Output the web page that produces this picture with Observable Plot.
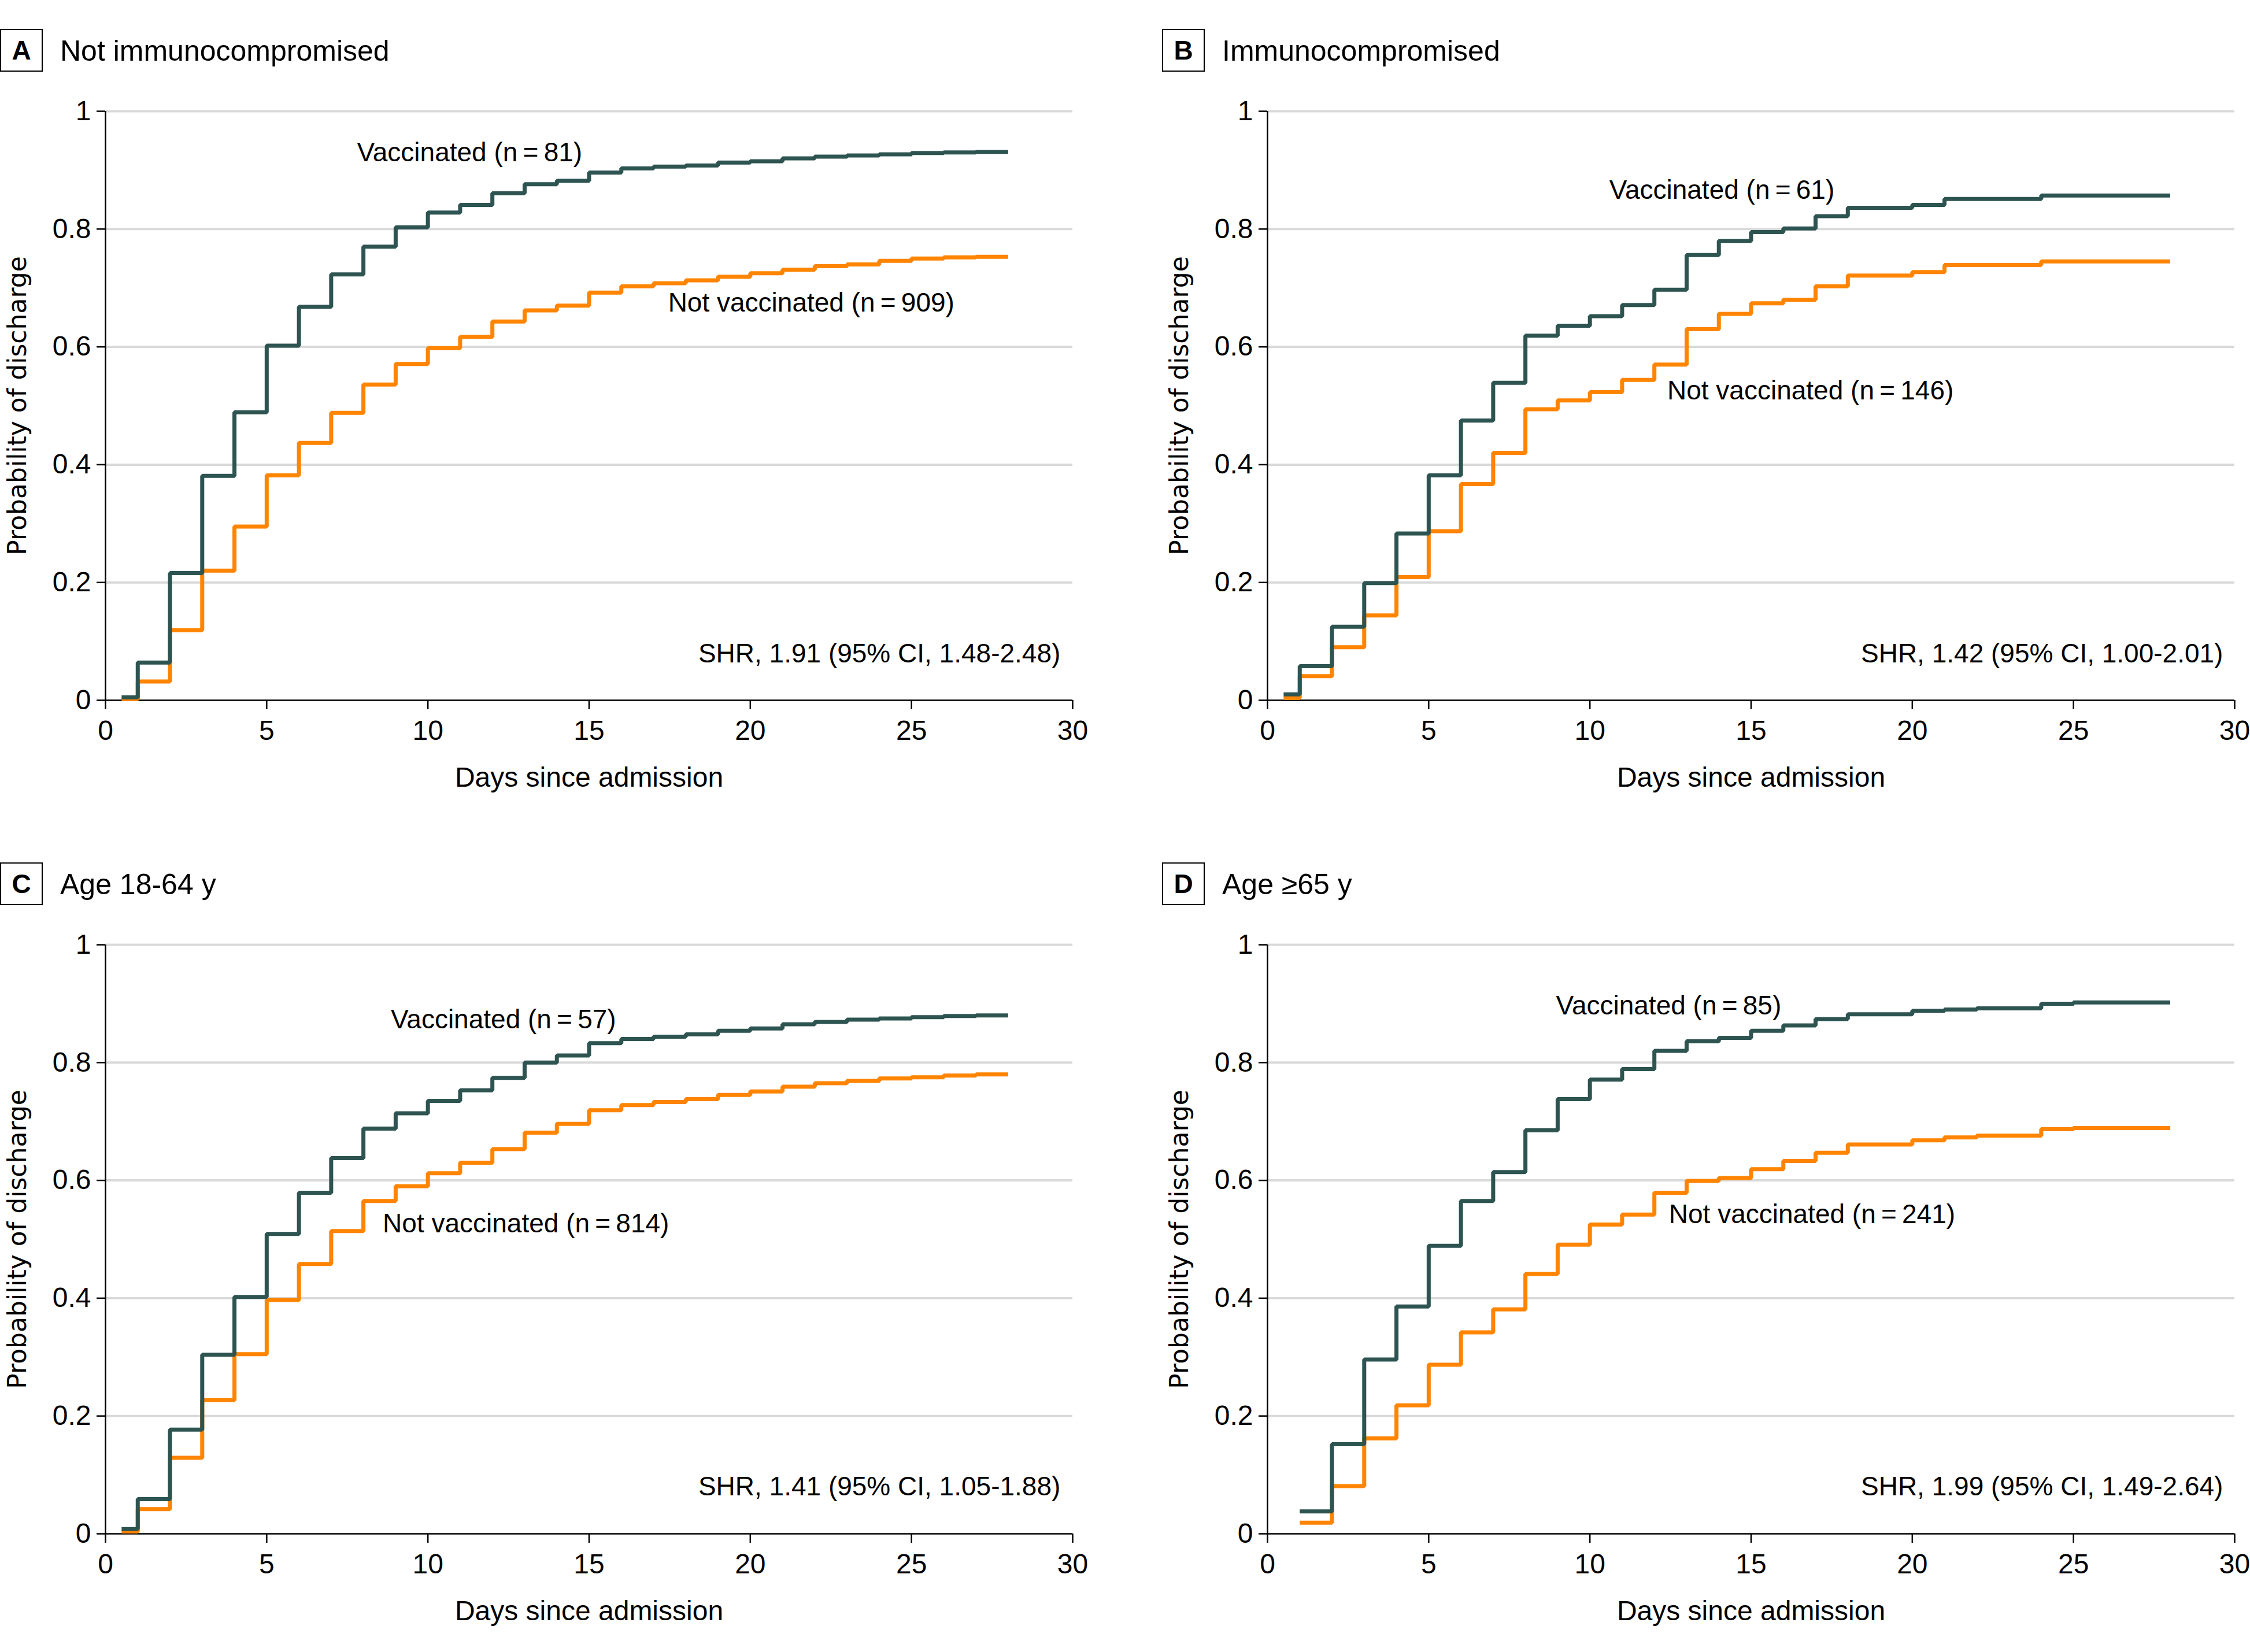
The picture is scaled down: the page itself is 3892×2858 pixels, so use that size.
<!DOCTYPE html>
<html>
<head>
<meta charset="utf-8">
<script src="https://cdn.jsdelivr.net/npm/d3@7"></script>
<script src="https://cdn.jsdelivr.net/npm/@observablehq/plot@0.6"></script>
<style>
  html, body { margin: 0; padding: 0; background: #fff; }
  #root { position: relative; width: 3892px; height: 2858px; background: #fff; font-family: "Liberation Sans", Arial, sans-serif; }
  .panel-svg { position: absolute; }
  .tag { position: absolute; width: 70px; height: 70px; border: 2.5px solid #000; display: flex; align-items: center; justify-content: center; font-weight: bold; font-size: 46px; color: #000; box-sizing: content-box; }
  .ttl { position: absolute; font-size: 50px; line-height: 50px; color: #000; white-space: nowrap; }
</style>
</head>
<body>
<div id="root"></div>
<script>
// ---- data ----
const panelLetters = ["A", "B", "C", "D"];
const panelTitles = ["Not immunocompromised", "Immunocompromised", "Age 18-64 y", "Age \u226565 y"];

const xTicks = [0, 5, 10, 15, 20, 25, 30];
const yTicks = [0, 0.2, 0.4, 0.6, 0.8, 1];
const yTickLabels = ["0", "0.2", "0.4", "0.6", "0.8", "1"];

const xLabel = "Days since admission";
const yLabel = "Probability of discharge";

const timesHalf = [0.5, 1, 2, 3, 4, 5, 6, 7, 8, 9, 10, 11, 12, 13, 14, 15, 16, 17, 18, 19, 20, 21, 22, 23, 24, 25, 26, 27, 28];
const timesOne = [1, 2, 3, 4, 5, 6, 7, 8, 9, 10, 11, 12, 13, 14, 15, 16, 17, 18, 19, 20, 21, 22, 23, 24, 25, 26, 27, 28];

const aVacc = [0.005,0.064,0.216,0.381,0.489,0.602,0.668,0.723,0.770,0.803,0.828,0.841,0.861,0.876,0.882,0.896,0.903,0.906,0.908,0.913,0.915,0.920,0.923,0.925,0.927,0.929,0.930,0.931,0.931];
const aUnvacc = [0.002,0.032,0.119,0.220,0.295,0.382,0.437,0.488,0.536,0.571,0.598,0.617,0.643,0.662,0.670,0.692,0.703,0.708,0.713,0.719,0.725,0.731,0.737,0.740,0.746,0.750,0.752,0.753,0.753];

const bVacc = [0.010,0.058,0.125,0.199,0.283,0.382,0.475,0.539,0.619,0.636,0.652,0.671,0.697,0.756,0.780,0.795,0.801,0.822,0.836,0.836,0.841,0.851,0.851,0.851,0.857,0.857,0.857,0.857,0.857];
const bUnvacc = [0.004,0.041,0.090,0.144,0.209,0.287,0.367,0.420,0.494,0.509,0.523,0.544,0.570,0.630,0.656,0.674,0.680,0.703,0.721,0.721,0.727,0.739,0.739,0.739,0.745,0.745,0.745,0.745,0.745];

const cVacc = [0.008,0.059,0.177,0.304,0.402,0.509,0.579,0.638,0.688,0.714,0.735,0.753,0.774,0.800,0.812,0.833,0.840,0.844,0.848,0.854,0.858,0.865,0.869,0.873,0.875,0.877,0.879,0.880,0.880];
const cUnvacc = [0.004,0.042,0.129,0.227,0.305,0.397,0.458,0.514,0.565,0.590,0.612,0.630,0.653,0.681,0.696,0.719,0.728,0.733,0.738,0.745,0.751,0.759,0.765,0.769,0.773,0.775,0.778,0.780,0.780];

const dVacc = [0.038,0.152,0.296,0.386,0.489,0.565,0.614,0.685,0.738,0.771,0.789,0.820,0.836,0.842,0.854,0.863,0.874,0.882,0.882,0.888,0.890,0.892,0.892,0.900,0.902,0.902,0.902,0.902];
const dUnvacc = [0.019,0.081,0.162,0.218,0.287,0.342,0.381,0.441,0.491,0.525,0.542,0.579,0.599,0.604,0.619,0.633,0.647,0.661,0.661,0.668,0.673,0.676,0.676,0.687,0.689,0.689,0.689,0.689];

const vaccLabels = ["Vaccinated (n\u2009=\u200981)", "Vaccinated (n\u2009=\u200961)", "Vaccinated (n\u2009=\u200957)", "Vaccinated (n\u2009=\u200985)"];
const unvaccLabels = ["Not vaccinated (n\u2009=\u2009909)", "Not vaccinated (n\u2009=\u2009146)", "Not vaccinated (n\u2009=\u2009814)", "Not vaccinated (n\u2009=\u2009241)"];
const shrLabels = ["SHR, 1.91 (95% CI, 1.48-2.48)", "SHR, 1.42 (95% CI, 1.00-2.01)", "SHR, 1.41 (95% CI, 1.05-1.88)", "SHR, 1.99 (95% CI, 1.49-2.64)"];

// label anchor positions (data coordinates)
const vaccLabelX = [7.8, 10.6, 8.85, 8.95];
const vaccLabelY = [0.930, 0.866, 0.873, 0.896];
const unvaccLabelX = [17.45, 12.4, 8.6, 12.45];
const unvaccLabelY = [0.674, 0.525, 0.526, 0.542];
const shrX = [29.62, 29.64, 29.62, 29.64];
const shrY = [0.079, 0.079, 0.080, 0.080];

// ---- build ----
const VACC_COLOR = "#2d5451";
const UNVACC_COLOR = "#ff8400";
const FONT = "Liberation Sans, Arial, sans-serif";

const panels = [
  {times: timesHalf, vacc: aVacc, unvacc: aUnvacc},
  {times: timesHalf, vacc: bVacc, unvacc: bUnvacc},
  {times: timesHalf, vacc: cVacc, unvacc: cUnvacc},
  {times: timesOne, vacc: dVacc, unvacc: dUnvacc}
];
const origins = [[0, 0], [2010, 0], [0, 1442], [2010, 1442]];

const root = document.getElementById("root");

const W = 1673, H = 1019;
const mL = 182, mT = 62, mR = 35, mB = 180;
const svgTop = 130;

panels.forEach((p, i) => {
  const [ox, oy] = origins[i];
  const toRows = (vals) => p.times.map((t, k) => ({t, v: vals[k]}));
  const vRows = toRows(p.vacc);
  const uRows = toRows(p.unvacc);

  const chart = Plot.plot({
    width: mL + W + mR,
    height: mT + H + mB,
    marginLeft: mL, marginRight: mR, marginTop: mT, marginBottom: mB,
    style: {fontFamily: FONT, fontSize: "48px", background: "white", color: "black"},
    x: {domain: [0, 30]},
    y: {domain: [0, 1]},
    marks: [
      Plot.gridY(yTicks.filter(d => d > 0), {stroke: "#d9d9d9", strokeOpacity: 1, strokeWidth: 4}),
      Plot.axisX({ticks: xTicks, tickSize: 16, tickPadding: 18, tickFormat: d => String(d), fontSize: 48, label: null, strokeWidth: 2.5}),
      Plot.axisY({ticks: yTicks, tickSize: 15, tickPadding: 10, tickFormat: (d, k) => yTickLabels[k], fontSize: 48, label: null, strokeWidth: 2.5}),
      Plot.ruleY([0], {stroke: "black", strokeWidth: 2.5}),
      Plot.ruleX([0], {stroke: "black", strokeWidth: 2.5}),
      Plot.line(uRows, {x: "t", y: "v", curve: "step-after", stroke: UNVACC_COLOR, strokeWidth: 7, strokeLinejoin: "miter", strokeLinecap: "butt"}),
      Plot.line(vRows, {x: "t", y: "v", curve: "step-after", stroke: VACC_COLOR, strokeWidth: 7, strokeLinejoin: "miter", strokeLinecap: "butt"}),
      Plot.text([vaccLabels[i]], {x: () => vaccLabelX[i], y: () => vaccLabelY[i], text: d => d, textAnchor: "start", fontSize: 46, fill: "black"}),
      Plot.text([unvaccLabels[i]], {x: () => unvaccLabelX[i], y: () => unvaccLabelY[i], text: d => d, textAnchor: "start", fontSize: 46, fill: "black"}),
      Plot.text([shrLabels[i]], {x: () => shrX[i], y: () => shrY[i], text: d => d, textAnchor: "end", fontSize: 46, fill: "black"}),
      Plot.text([xLabel], {frameAnchor: "bottom", dy: 134, textAnchor: "middle", lineAnchor: "middle", text: d => d, fontSize: 48, fill: "black"}),
      Plot.text([yLabel], {frameAnchor: "left", dx: -152, rotate: -90, textAnchor: "middle", lineAnchor: "middle", text: d => d, fontSize: 44, fill: "black", fontFamily: "DejaVu Sans, sans-serif"})
    ]
  });
  chart.classList.add("panel-svg");
  chart.style.left = ox + "px";
  chart.style.top = (oy + svgTop) + "px";
  root.appendChild(chart);

  const tag = document.createElement("div");
  tag.className = "tag";
  tag.style.left = (ox + 0) + "px";
  tag.style.top = (oy + 50) + "px";
  tag.textContent = panelLetters[i];
  root.appendChild(tag);

  const ttl = document.createElement("div");
  ttl.className = "ttl";
  ttl.style.left = (ox + 104) + "px";
  ttl.style.top = (oy + 63) + "px";
  ttl.textContent = panelTitles[i];
  root.appendChild(ttl);
});
</script>
</body>
</html>
